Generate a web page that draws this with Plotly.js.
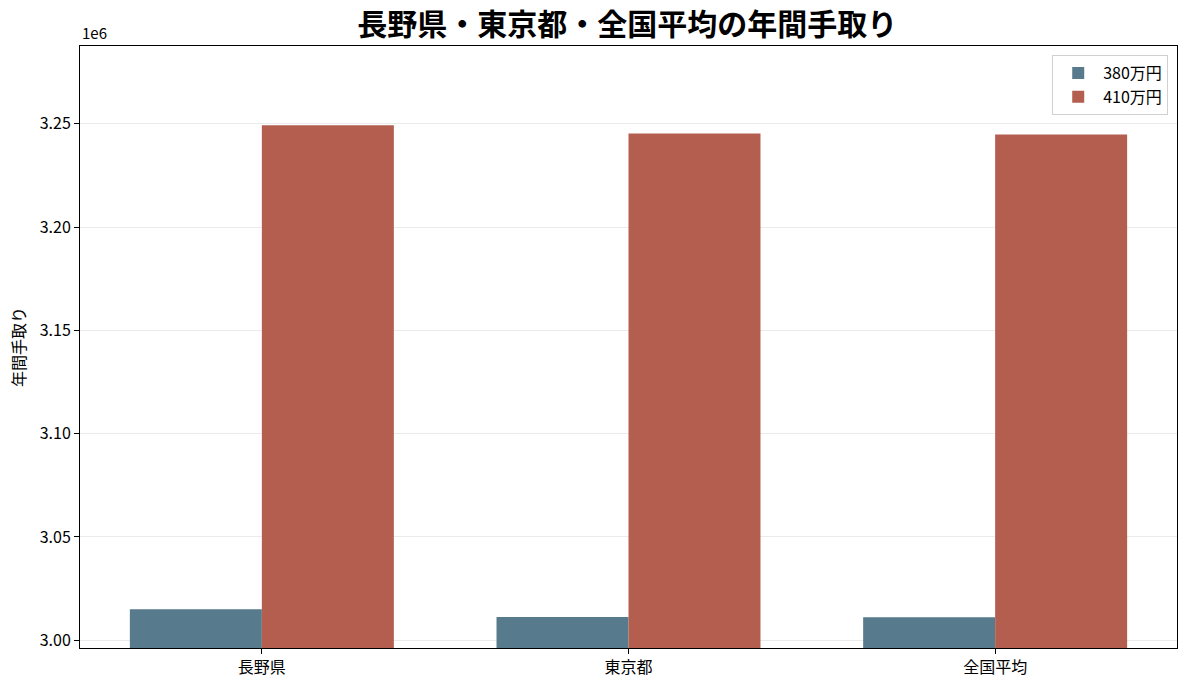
<!DOCTYPE html>
<html>
<head>
<meta charset="utf-8">
<script src="https://cdn.plot.ly/plotly-3.0.1.min.js"></script>
<style>
  html, body { margin: 0; padding: 0; background: #fff; }
  #chart { width: 1188px; height: 689px; }
</style>
</head>
<body>
<div id="chart"></div>
<script>
const categories = ["長野県", "東京都", "全国平均"];
const seriesNames = ["380万円", "410万円"];
const take380 = [3015000, 3011300, 3011200];
const take410 = [3249200, 3245300, 3244800];
const yTickVals = [3000000, 3050000, 3100000, 3150000, 3200000, 3250000];
const yTickText = ["3.00", "3.05", "3.10", "3.15", "3.20", "3.25"];

const FONT = "Noto Sans CJK JP, Noto Sans, sans-serif";

const data = [
  {
    type: "bar",
    name: seriesNames[0],
    x: categories,
    y: take380,
    marker: { color: "#577b8d", line: { width: 0 } }
  },
  {
    type: "bar",
    name: seriesNames[1],
    x: categories,
    y: take410,
    marker: { color: "#b35e4e", line: { width: 0 } }
  }
];

const layout = {
  width: 1188,
  height: 689,
  margin: { l: 80, r: 11, t: 46, b: 41 },
  paper_bgcolor: "#fff",
  plot_bgcolor: "#fff",
  font: { family: FONT, size: 15, color: "#000" },
  barmode: "group",
  bargap: 0.28,
  bargroupgap: 0,
  title: {
    text: "<b>長野県・東京都・全国平均の年間手取り</b>",
    font: { family: FONT, size: 30, color: "#000" },
    x: 0.528,
    xanchor: "center",
    y: 0.965,
    yanchor: "middle"
  },
  xaxis: {
    type: "category",
    range: [-0.496, 2.496],
    showline: true,
    mirror: true,
    linecolor: "#000",
    linewidth: 1,
    ticks: "outside",
    ticklen: 5,
    tickcolor: "#000",
    showgrid: false,
    zeroline: false,
    tickfont: { family: FONT, size: 16 }
  },
  yaxis: {
    range: [2996270, 3287600],
    tickvals: yTickVals,
    ticktext: yTickText,
    showline: true,
    mirror: true,
    linecolor: "#000",
    linewidth: 1,
    ticks: "outside",
    ticklen: 5,
    tickcolor: "#000",
    showgrid: true,
    gridcolor: "#ebebeb",
    gridwidth: 1,
    zeroline: false,
    tickfont: { family: FONT, size: 16 },
    title: { text: "年間手取り", font: { family: FONT, size: 16 }, standoff: 10 }
  },
  legend: {
    x: 0.992,
    y: 0.985,
    xanchor: "right",
    yanchor: "top",
    bgcolor: "rgba(255,255,255,0.8)",
    bordercolor: "#d0d0d0",
    borderwidth: 1,
    font: { family: FONT, size: 16 },
    itemwidth: 40,
    tracegroupgap: 2
  },
  annotations: [
    {
      text: "1e6",
      xref: "paper",
      yref: "paper",
      x: 0,
      y: 1,
      xanchor: "left",
      yanchor: "bottom",
      yshift: 1,
      showarrow: false,
      font: { family: FONT, size: 15 }
    }
  ]
};

Plotly.newPlot("chart", data, layout, { displayModeBar: false, staticPlot: true });
</script>
</body>
</html>
